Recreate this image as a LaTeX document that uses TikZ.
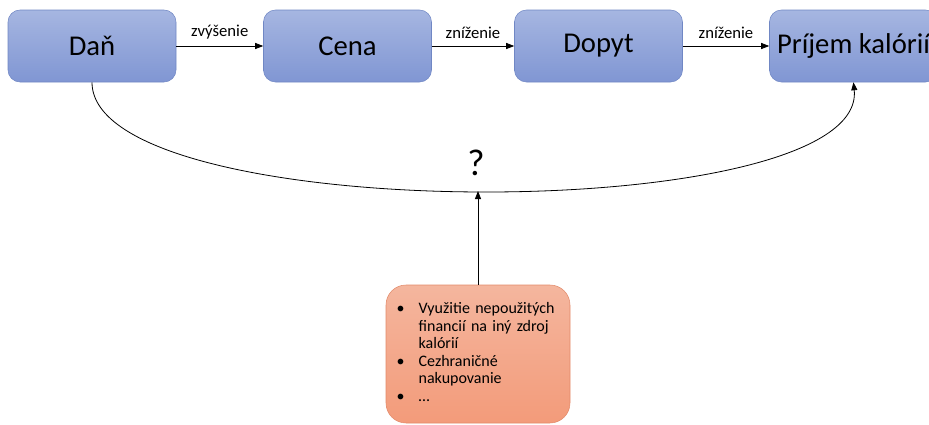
\documentclass[tikz,border=0pt]{standalone}
\usepackage{fontspec}
\usepackage{array}
\setmainfont{Carlito}
\usetikzlibrary{arrows.meta}

\definecolor{modraHore}{RGB}{166,182,225}
\definecolor{modraDole}{RGB}{128,150,211}
\definecolor{modraOkraj}{RGB}{112,135,196}
\definecolor{oranzHore}{RGB}{244,182,158}
\definecolor{oranzDole}{RGB}{243,155,122}
\definecolor{oranzOkraj}{RGB}{226,138,106}

\begin{document}
\begin{tikzpicture}[x=0.75pt,y=-0.75pt,
	faktor/.style={rounded corners=9pt,draw=modraOkraj,top color=modraHore,bottom color=modraDole,
		minimum width=126pt,minimum height=54pt,inner sep=0pt,font=\fontsize{21.5}{25}\selectfont},
	sipka/.style={-{Triangle[length=6pt,width=4.5pt]},line width=0.6pt},
	popis/.style={above=4pt,inner sep=1pt,font=\fontsize{12.5}{14}\selectfont}]
	\useasboundingbox (0,0) rectangle (929,425);

	%Chain of effects
	\node [faktor] (dan) at (92,46) {Daň};
	\node [faktor] (cena) at (347.5,46) {Cena};
	\node [faktor] (dopyt) at (598.5,46) {Dopyt};
	\node [faktor] (prijem) at (853.5,46) {Príjem kalórií};

	\draw [sipka] (dan) -- node [popis] {zvýšenie} (cena);
	\draw [sipka] (cena) -- node [popis] {zníženie} (dopyt);
	\draw [sipka] (dopyt) -- node [popis] {zníženie} (prijem);

	%Total effect
	\draw [sipka] (dan.south) .. controls +(0,145) and +(14,145) .. (prijem.south)
	coordinate [pos=0.5] (stred);
	\node [font=\fontsize{28}{32}\selectfont] (otaznik) at (476,163) {?};

	%Other channels
	\node [rounded corners=15pt,draw=oranzOkraj,top color=oranzHore,bottom color=oranzDole,
		minimum width=138pt,minimum height=103.5pt,inner xsep=8pt,inner ysep=0pt,
		text width=122pt,align=left,font=\fontsize{12}{13.2}\selectfont] (kanaly) at (478,354)
	{\begin{tabular}{@{}p{16.5pt}@{}>{\raggedright\arraybackslash}p{105pt}@{}}
		\textbullet & Využitie nepoužitých\newline financií na iný zdroj\newline kalórií\\
		\textbullet & Cezhraničné\newline nakupovanie\\
		\textbullet & …
	\end{tabular}};
	\draw [sipka] (kanaly.north) -- (kanaly.north |- stred);
\end{tikzpicture}
\end{document}
